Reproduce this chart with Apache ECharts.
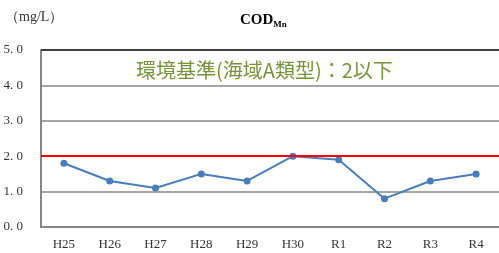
<!DOCTYPE html>
<html>
<head>
<meta charset="utf-8">
<script src="https://cdn.jsdelivr.net/npm/echarts@6/dist/echarts.min.js"></script>
<style>html,body{margin:0;padding:0;background:#fff;}#c{width:499px;height:253px;}</style>
</head>
<body>
<div id="c"></div>
<script>
var categories = ['H25','H26','H27','H28','H29','H30','R1','R2','R3','R4'];
var codValues = [1.8, 1.3, 1.1, 1.5, 1.3, 2.0, 1.9, 0.8, 1.3, 1.5];
var standardValue = 2;
var yTicks = [0, 1, 2, 3, 4, 5];
var titleMain = 'COD';
var titleSub = 'Mn';
var unitText = '（mg/L）';
var standardText = '環境基準(海域A類型)：2以下';

var chart = echarts.init(document.getElementById('c'));
var serif = '"Liberation Serif","DejaVu Serif",serif';
chart.setOption({
  animation: false,
  grid: {left: 41, top: 50, width: 460, bottom: 26, containLabel: false},
  title: [{
    text: '{a|' + titleMain + '}{b|' + titleSub + '}',
    left: 235, top: 6,
    textStyle: {rich: {
      a: {fontFamily: serif, fontWeight: 'bold', fontSize: 15, color: '#000'},
      b: {fontFamily: serif, fontWeight: 'bold', fontSize: 9, color: '#000', verticalAlign: 'bottom', padding: [9,0,0,0]}
    }}
  }, {
    text: unitText, left: 0, top: 5,
    textStyle: {fontFamily: serif, fontWeight: 'normal', fontSize: 14, color: '#333'}
  }, {
    text: standardText, left: 131, top: 55,
    textStyle: {fontFamily: '"Noto Sans CJK JP"', fontWeight: 'normal', fontSize: 20, color: '#77933C'}
  }],
  xAxis: {
    type: 'category', data: categories, boundaryGap: true,
    axisLine: {lineStyle: {color: '#868686', width: 2}},
    axisTick: {inside: true, length: 4, lineStyle: {color: '#868686'}},
    axisLabel: {fontFamily: serif, fontSize: 13, color: '#333', margin: 11}
  },
  yAxis: {
    type: 'value', min: yTicks[0], max: yTicks[yTicks.length-1], interval: 1,
    axisLine: {show: true, lineStyle: {color: '#868686', width: 2}},
    axisTick: {show: false},
    axisLabel: {fontFamily: serif, fontSize: 13, color: '#333', margin: 18,
      formatter: function (v) { return v.toFixed(1).replace('.', '. '); }},
    splitLine: {lineStyle: {color: '#a6a6a6', width: 2}}
  },
  series: [{
    type: 'line', data: codValues,
    lineStyle: {color: '#4a7ebb', width: 2},
    itemStyle: {color: '#4a7ebb'},
    symbol: 'circle', symbolSize: 7,
    markLine: {
      silent: true, symbol: 'none', label: {show: false},
      lineStyle: {color: '#ff0000', width: 2, type: 'solid'},
      data: [{yAxis: standardValue}]
    }
  }, {
    type: 'line', data: [], markLine: {
      silent: true, symbol: 'none', label: {show: false},
      lineStyle: {color: '#404040', width: 2, type: 'solid'},
      data: [{yAxis: yTicks[yTicks.length-1]}]
    }
  }]
});
</script>
</body>
</html>
